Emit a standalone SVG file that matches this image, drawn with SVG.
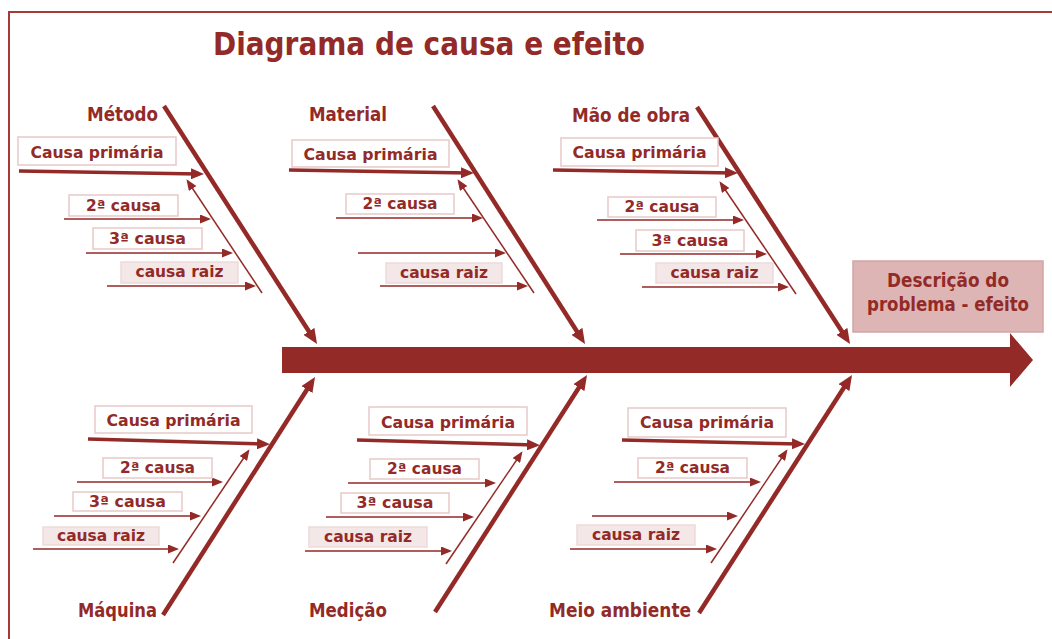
<svg xmlns="http://www.w3.org/2000/svg" width="1052" height="639" viewBox="0 0 1052 639">
<style>
.t{font-family:"DejaVu Sans","Liberation Sans",sans-serif;font-weight:bold;fill:#932A27}
.title{font-size:32px}
.cat{font-size:19px}
.pb{font-size:16px;text-anchor:middle}
.sb{font-size:15px;text-anchor:middle}
.box{fill:#FFFFFF;stroke:#E6C9C9;stroke-width:1.5}
.rbox{fill:#F4E7E7;stroke:#EEDADA;stroke-width:1.5}
.big{stroke:#932A27;stroke-width:4.5;fill:none;marker-end:url(#mBig)}
.pri{stroke:#932A27;stroke-width:3.5;fill:none;marker-end:url(#mMed)}
.sec{stroke:#932A27;stroke-width:1.5;fill:none;marker-end:url(#mSm)}
</style>
<defs>
<marker id="mBig" markerUnits="userSpaceOnUse" markerWidth="15" markerHeight="13" refX="9" refY="6.5" orient="auto"><path d="M0,0 L15,6.5 L0,13 z" fill="#932A27"/></marker>
<marker id="mMed" markerUnits="userSpaceOnUse" markerWidth="13" markerHeight="11" refX="8" refY="5.5" orient="auto"><path d="M0,0 L13,5.5 L0,11 z" fill="#932A27"/></marker>
<marker id="mSm" markerUnits="userSpaceOnUse" markerWidth="11" markerHeight="9" refX="9" refY="4.5" orient="auto"><path d="M0,0 L11,4.5 L0,9 z" fill="#932A27"/></marker>
</defs>
<rect x="0" y="0" width="1052" height="639" fill="#FFFFFF"/>
<path d="M9,639 L9,12 L1052,12" fill="none" stroke="#A33C38" stroke-width="2"/>

<g id="title"><text class="t title" x="213" y="55" textLength="432" lengthAdjust="spacingAndGlyphs">Diagrama de causa e efeito</text></g>

<g id="spine"><path d="M282,347 L1010,347 L1010,333 L1033,360 L1010,387 L1010,373 L282,373 z" fill="#932A27"/></g>

<g id="effect">
<rect x="853" y="261" width="190" height="71" fill="#DDB5B5" stroke="#D3A5A5" stroke-width="1.5"/>
<text class="t" font-size="19" x="948" y="287" text-anchor="middle" textLength="122" lengthAdjust="spacingAndGlyphs">Descrição do</text>
<text class="t" font-size="19" x="948" y="311" text-anchor="middle" textLength="162" lengthAdjust="spacingAndGlyphs">problema - efeito</text>
</g>

<g id="connectors">
<line class="big" x1="164" y1="106" x2="313.8" y2="339"/>
<line class="big" x1="433" y1="106" x2="581.8" y2="339"/>
<line class="big" x1="697" y1="107" x2="846.8" y2="339"/>
<line class="big" x1="163" y1="615" x2="311.8" y2="382"/>
<line class="big" x1="435" y1="612" x2="583.8" y2="380"/>
<line class="big" x1="699" y1="613" x2="848.8" y2="380"/>

<line class="pri" x1="19" y1="171" x2="199" y2="174"/>
<line class="pri" x1="289" y1="170" x2="469" y2="173"/>
<line class="pri" x1="553" y1="170" x2="733" y2="173"/>
<line class="pri" x1="88" y1="439" x2="265" y2="444"/>
<line class="pri" x1="357" y1="440" x2="535" y2="445"/>
<line class="pri" x1="622" y1="440" x2="800" y2="444"/>

<line class="sec" x1="262" y1="293" x2="187.6" y2="181"/>
<line class="sec" x1="534" y1="293" x2="458.6" y2="181"/>
<line class="sec" x1="796" y1="294" x2="720.6" y2="183"/>
<line class="sec" x1="173" y1="563" x2="248.4" y2="451"/>
<line class="sec" x1="446" y1="564" x2="521.4" y2="453"/>
<line class="sec" x1="711" y1="563" x2="786.4" y2="451"/>

<line class="sec" x1="64" y1="219" x2="209" y2="219"/>
<line class="sec" x1="86" y1="253" x2="231" y2="253"/>
<line class="sec" x1="107" y1="286" x2="254" y2="286"/>
<line class="sec" x1="336" y1="218" x2="481" y2="218"/>
<line class="sec" x1="358" y1="253" x2="504" y2="253"/>
<line class="sec" x1="380" y1="286" x2="526" y2="286"/>
<line class="sec" x1="597" y1="220" x2="742" y2="220"/>
<line class="sec" x1="620" y1="254" x2="765" y2="254"/>
<line class="sec" x1="642" y1="287" x2="787" y2="287"/>

<line class="sec" x1="77" y1="482" x2="221" y2="482"/>
<line class="sec" x1="54" y1="516" x2="199" y2="516"/>
<line class="sec" x1="33" y1="549" x2="177" y2="549"/>
<line class="sec" x1="348" y1="483" x2="494" y2="483"/>
<line class="sec" x1="326" y1="517" x2="472" y2="517"/>
<line class="sec" x1="305" y1="551" x2="450" y2="551"/>
<line class="sec" x1="614" y1="482" x2="759" y2="482"/>
<line class="sec" x1="592" y1="516" x2="736" y2="516"/>
<line class="sec" x1="570" y1="549" x2="715" y2="549"/>
</g>

<g id="cat-metodo"><text class="t cat" x="87" y="121" textLength="71" lengthAdjust="spacingAndGlyphs">Método</text></g>
<g id="cat-material"><text class="t cat" x="309" y="121" textLength="78" lengthAdjust="spacingAndGlyphs">Material</text></g>
<g id="cat-maodeobra"><text class="t cat" x="572" y="122" textLength="118" lengthAdjust="spacingAndGlyphs">Mão de obra</text></g>
<g id="cat-maquina"><text class="t cat" x="78" y="617" textLength="79" lengthAdjust="spacingAndGlyphs">Máquina</text></g>
<g id="cat-medicao"><text class="t cat" x="309" y="617" textLength="78" lengthAdjust="spacingAndGlyphs">Medição</text></g>
<g id="cat-meio"><text class="t cat" x="549" y="617" textLength="142" lengthAdjust="spacingAndGlyphs">Meio ambiente</text></g>

<g id="metodo-primaria"><rect class="box" x="18" y="137" width="158" height="28"/><text class="t pb" x="97" y="158" textLength="133" lengthAdjust="spacingAndGlyphs">Causa primária</text></g>
<g id="metodo-2"><rect class="box" x="69" y="195" width="109" height="21"/><text class="t sb" x="123.5" y="211" textLength="75" lengthAdjust="spacingAndGlyphs">2ª causa</text></g>
<g id="metodo-3"><rect class="box" x="93" y="228" width="109" height="21"/><text class="t sb" x="147.5" y="244" textLength="77" lengthAdjust="spacingAndGlyphs">3ª causa</text></g>
<g id="metodo-raiz"><rect class="rbox" x="121" y="262" width="117" height="21"/><text class="t sb" x="179.5" y="277" textLength="88" lengthAdjust="spacingAndGlyphs">causa raiz</text></g>

<g id="material-primaria"><rect class="box" x="292" y="140" width="157" height="27"/><text class="t pb" x="370.5" y="160" textLength="134" lengthAdjust="spacingAndGlyphs">Causa primária</text></g>
<g id="material-2"><rect class="box" x="346" y="194" width="108" height="20"/><text class="t sb" x="400" y="209" textLength="75" lengthAdjust="spacingAndGlyphs">2ª causa</text></g>
<g id="material-raiz"><rect class="rbox" x="386" y="263" width="116" height="20"/><text class="t sb" x="444" y="278" textLength="88" lengthAdjust="spacingAndGlyphs">causa raiz</text></g>

<g id="maodeobra-primaria"><rect class="box" x="561" y="138" width="157" height="28"/><text class="t pb" x="639.5" y="158" textLength="134" lengthAdjust="spacingAndGlyphs">Causa primária</text></g>
<g id="maodeobra-2"><rect class="box" x="608" y="197" width="108" height="20"/><text class="t sb" x="662" y="212" textLength="75" lengthAdjust="spacingAndGlyphs">2ª causa</text></g>
<g id="maodeobra-3"><rect class="box" x="636" y="230" width="108" height="21"/><text class="t sb" x="690" y="246" textLength="77" lengthAdjust="spacingAndGlyphs">3ª causa</text></g>
<g id="maodeobra-raiz"><rect class="rbox" x="656" y="263" width="117" height="20"/><text class="t sb" x="714.5" y="278" textLength="88" lengthAdjust="spacingAndGlyphs">causa raiz</text></g>

<g id="maquina-primaria"><rect class="box" x="95" y="406" width="157" height="27"/><text class="t pb" x="173.5" y="426" textLength="134" lengthAdjust="spacingAndGlyphs">Causa primária</text></g>
<g id="maquina-2"><rect class="box" x="103" y="458" width="109" height="20"/><text class="t sb" x="157.5" y="473" textLength="75" lengthAdjust="spacingAndGlyphs">2ª causa</text></g>
<g id="maquina-3"><rect class="box" x="73" y="492" width="109" height="19"/><text class="t sb" x="127.5" y="507" textLength="77" lengthAdjust="spacingAndGlyphs">3ª causa</text></g>
<g id="maquina-raiz"><rect class="rbox" x="43" y="527" width="116" height="18"/><text class="t sb" x="101" y="541" textLength="88" lengthAdjust="spacingAndGlyphs">causa raiz</text></g>

<g id="medicao-primaria"><rect class="box" x="369" y="407" width="158" height="28"/><text class="t pb" x="448" y="428" textLength="134" lengthAdjust="spacingAndGlyphs">Causa primária</text></g>
<g id="medicao-2"><rect class="box" x="370" y="459" width="109" height="20"/><text class="t sb" x="424.5" y="474" textLength="75" lengthAdjust="spacingAndGlyphs">2ª causa</text></g>
<g id="medicao-3"><rect class="box" x="341" y="493" width="108" height="20"/><text class="t sb" x="395" y="508" textLength="77" lengthAdjust="spacingAndGlyphs">3ª causa</text></g>
<g id="medicao-raiz"><rect class="rbox" x="309" y="527" width="118" height="20"/><text class="t sb" x="368" y="542" textLength="88" lengthAdjust="spacingAndGlyphs">causa raiz</text></g>

<g id="meio-primaria"><rect class="box" x="628" y="408" width="158" height="29"/><text class="t pb" x="707" y="428" textLength="134" lengthAdjust="spacingAndGlyphs">Causa primária</text></g>
<g id="meio-2"><rect class="box" x="638" y="458" width="109" height="20"/><text class="t sb" x="692.5" y="473" textLength="75" lengthAdjust="spacingAndGlyphs">2ª causa</text></g>
<g id="meio-raiz"><rect class="rbox" x="577" y="525" width="118" height="20"/><text class="t sb" x="636" y="540" textLength="88" lengthAdjust="spacingAndGlyphs">causa raiz</text></g>
</svg>
